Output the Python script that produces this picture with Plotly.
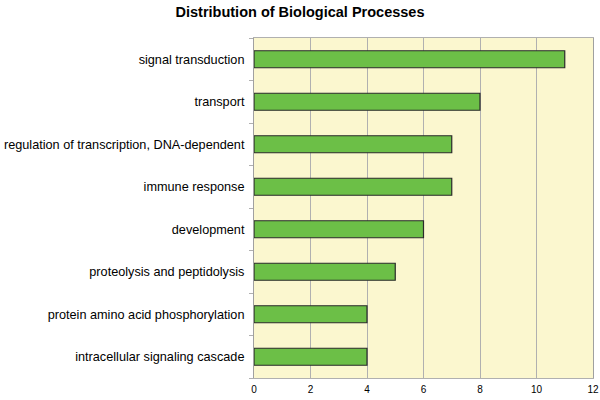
import plotly.graph_objects as go

categories = [
    "signal transduction",
    "transport",
    "regulation of transcription, DNA-dependent",
    "immune response",
    "development",
    "proteolysis and peptidolysis",
    "protein amino acid phosphorylation",
    "intracellular signaling cascade",
]
counts = [11, 8, 7, 7, 6, 5, 4, 4]
x_ticks = [0, 2, 4, 6, 8, 10, 12]

fig = go.Figure(go.Bar(
    x=counts,
    y=categories,
    orientation="h",
    width=0.4,
    marker=dict(color="#6cbf47", line=dict(color="#2a2a2a", width=1.2)),
))

fig.update_layout(
    width=600, height=400,
    margin=dict(l=254, r=7, t=38, b=22, autoexpand=False),
    paper_bgcolor="white",
    plot_bgcolor="#fbf7cf",
    font=dict(family="Liberation Sans, Arial, sans-serif", color="black"),
    title=dict(text="<b>Distribution of Biological Processes</b>", x=0.5, xanchor="center",
               y=0.97, yanchor="middle", font=dict(size=14.5)),
    showlegend=False,
)
fig.update_xaxes(
    range=[0, 12], tickvals=x_ticks, showgrid=True, gridcolor="#b0b0b0", gridwidth=1,
    zeroline=False, showline=True, mirror=True, linecolor="#b0b0b0", linewidth=1,
    tickfont=dict(size=10), ticks="", ticklen=0,
    automargin=False, ticklabelstandoff=2,
)
fig.update_yaxes(
    categoryorder="array", categoryarray=categories[::-1],
    showline=True, mirror=True, linecolor="#a0a0a0", linewidth=1,
    ticks="outside", tickson="boundaries", ticklen=4, tickcolor="#b0b0b0",
    tickfont=dict(size=12.7), ticklabelstandoff=6, automargin=False,
)

fig.write_html("out.html", config={"displayModeBar": False},
               post_script="document.body.style.margin='0';document.body.style.padding='0';")
